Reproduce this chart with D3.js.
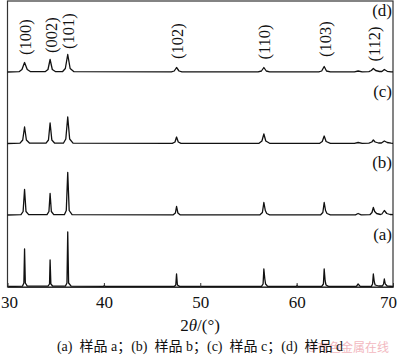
<!DOCTYPE html>
<html><head><meta charset="utf-8">
<script src="https://cdn.jsdelivr.net/npm/d3@7"></script>
<style>
html,body{margin:0;padding:0;background:#fff;}
svg{display:block;}
</style></head>
<body>
<script>
// ---- data ----
const xTicks = [30, 40, 50, 60, 70];
const samples = ["a", "b", "c", "d"];
const panelLabels = ["(a)", "(b)", "(c)", "(d)"];
const peakLabels = ["(100)", "(002)", "(101)", "(102)", "(110)", "(103)", "(112)"];
const peakLabelPos = [31.77, 34.42, 36.25, 47.54, 56.6, 62.86, 67.96];
const caption = "(a)  样品 a；(b)  样品 b；(c)  样品 c；(d)  样品 d";
const watermark = "©有色金属在线";

// [2θ, intensity]
const traceA = [[30,0.5],[31.55,0.8],[31.7,4],[31.77,38],[31.85,4],[32.05,0.8],
 [34.2,0.8],[34.36,3],[34.42,27],[34.5,3],[34.7,0.8],
 [36.0,0.8],[36.17,4],[36.25,55],[36.34,4],[36.6,0.8],
 [40,0.6],[40.05,1.8],[40.1,0.6],
 [47.3,0.6],[47.46,2],[47.54,13],[47.63,2],[47.85,0.6],
 [56.35,0.6],[56.52,3],[56.6,18],[56.7,8],[56.78,3],[57.0,0.6],
 [60,0.5],[60.05,1.8],[60.1,0.5],
 [62.6,0.6],[62.78,3],[62.86,18],[62.96,6],[63.05,2],[63.3,0.6],
 [66.2,0.6],[66.38,3],[66.6,0.6],
 [67.75,0.6],[67.88,3],[67.96,13],[68.06,5],[68.15,2],[68.5,1],
 [68.9,1],[69.02,3],[69.1,8],[69.2,3],[69.4,1],[70,0.5]];
const traceB = [[30,0.5],[31.4,0.8],[31.62,4],[31.77,26],[31.92,4],[32.2,0.8],
 [34.1,0.8],[34.3,4],[34.42,22],[34.55,4],[34.8,0.8],
 [35.9,0.8],[36.1,5],[36.25,43],[36.4,5],[36.7,0.8],
 [47.2,0.7],[47.42,2.5],[47.54,9],[47.68,2.5],[47.9,0.7],
 [56.2,0.7],[56.45,3],[56.6,13],[56.75,5],[56.9,2],[57.2,0.7],
 [62.5,0.7],[62.72,3],[62.86,13],[63.0,5],[63.15,2],[63.5,0.7],
 [66.1,0.7],[66.38,2],[66.7,0.7],
 [67.6,0.8],[67.82,3],[67.96,8],[68.1,4],[68.3,2],[68.7,1],
 [68.85,1.5],[69.1,5],[69.35,2],[69.7,1],[70,0.8]];
const traceC = [[30,0.5],[31.3,0.8],[31.58,4],[31.77,17],[31.96,4],[32.3,0.8],
 [34.0,0.8],[34.25,4],[34.42,21],[34.6,4],[34.9,0.8],
 [35.8,0.8],[36.05,5],[36.25,27],[36.45,5],[36.8,0.8],
 [47.1,0.7],[47.38,2],[47.54,7],[47.72,2],[48.0,0.7],
 [56.1,0.7],[56.4,3],[56.6,10],[56.8,3],[57.2,0.7],
 [62.4,0.7],[62.66,2.5],[62.86,8],[63.06,2.5],[63.5,0.7],
 [66.0,0.7],[66.38,1.5],[66.8,0.7],
 [67.5,0.8],[67.8,2],[67.96,4],[68.15,2],[68.5,1],
 [68.8,1],[69.1,3],[69.4,1.5],[69.8,0.8],[70,0.7]];
const traceD = [[30,0.5],[31.2,0.8],[31.5,3],[31.77,10],[32.05,3],[32.4,0.8],
 [33.9,0.8],[34.2,3],[34.42,13],[34.65,3],[35.0,0.8],
 [35.7,0.8],[36.0,4],[36.25,18],[36.5,4],[36.9,0.8],
 [47.0,0.6],[47.3,1.5],[47.54,5],[47.8,1.5],[48.1,0.6],
 [56.0,0.6],[56.35,1.5],[56.6,5],[56.85,1.5],[57.2,0.6],
 [62.3,0.6],[62.6,1.5],[62.86,6],[63.1,1.5],[63.5,0.6],
 [66.0,0.6],[66.38,1.5],[66.8,0.6],
 [67.5,0.8],[67.75,2],[67.96,4],[68.2,2],[68.6,1],
 [68.85,1],[69.1,3],[69.4,1.2],[69.8,0.6],[70,0.6]];
const traces = [traceA, traceB, traceC, traceD];

// ---- layout ----
const W = 400, H = 357;
const plot = {left: 7.5, right: 393, top: 1, bottom: 287};
const panelH = (plot.bottom - plot.top) / 4;
const labelY = [240, 168, 97, 16];
const peakLabelY = [37, 35, 31, 41, 42, 39, 44];

const svg = d3.select("body").append("svg").attr("width", W).attr("height", H);
const serif = "'Liberation Serif','Times New Roman',serif";

const x = d3.scaleLinear().domain([30, 70]).range([plot.left, plot.right]);

// frame
svg.append("rect").attr("x", plot.left).attr("y", plot.top)
  .attr("width", plot.right - plot.left).attr("height", plot.bottom - plot.top)
  .attr("fill", "none").attr("stroke", "#333").attr("stroke-width", 1.2);

// traces
traces.forEach((tr, i) => {
  const base = plot.bottom - panelH * i;
  const y = d3.scaleLinear().domain([0, panelH]).range([base, base - panelH]);
  const line = d3.line().x(d => x(d[0])).y(d => y(d[1]));
  svg.append("path").datum(tr).attr("d", line)
    .attr("fill", "none").attr("stroke", "#111").attr("stroke-width", 1.3)
    .attr("stroke-linejoin", "round");
  svg.append("text").attr("x", 392).attr("y", labelY[i])
    .attr("text-anchor", "end").attr("font-family", serif).attr("font-size", 17)
    .attr("fill", "#111").text(panelLabels[i]);
});

// peak labels
peakLabels.forEach((lab, i) => {
  svg.append("text")
    .attr("transform", `translate(${x(peakLabelPos[i]) + 1},${peakLabelY[i]}) rotate(-90)`)
    .attr("text-anchor", "middle").attr("dominant-baseline", "central")
    .attr("font-family", serif).attr("font-size", 16.5).attr("fill", "#111")
    .text(lab);
});

// x axis
const axis = d3.axisBottom(x).tickValues(xTicks).tickSizeInner(-4).tickSizeOuter(0).tickPadding(9);
const gx = svg.append("g").attr("transform", `translate(0,${plot.bottom})`).call(axis);
gx.select(".domain").attr("stroke", "#333").attr("stroke-width", 1.2);
gx.selectAll(".tick line").attr("stroke", "#333");
gx.selectAll(".tick text").attr("font-family", serif).attr("font-size", 17).attr("fill", "#111")
  .attr("dx", d => d === 70 ? -5 : (d === 30 ? 1.5 : 0));

// axis title
const t = svg.append("text").attr("x", 200).attr("y", 331).attr("text-anchor", "middle")
  .attr("font-family", serif).attr("font-size", 17).attr("fill", "#111");
t.append("tspan").text("2");
t.append("tspan").attr("font-style", "italic").text("θ");
t.append("tspan").text("/(°)");

// watermark
svg.append("text").attr("x", 307).attr("y", 352)
  .attr("font-family", "'Noto Sans CJK SC',sans-serif").attr("font-size", 12)
  .attr("fill", "#f2b8c0").text(watermark);

// caption
svg.append("text").attr("x", 200).attr("y", 351).attr("text-anchor", "middle")
  .attr("font-family", serif + ",'Noto Sans CJK SC'").attr("font-size", 14).attr("fill", "#111")
  .attr("xml:space", "preserve").style("white-space", "pre")
  .text(caption);
</script>
</body></html>
